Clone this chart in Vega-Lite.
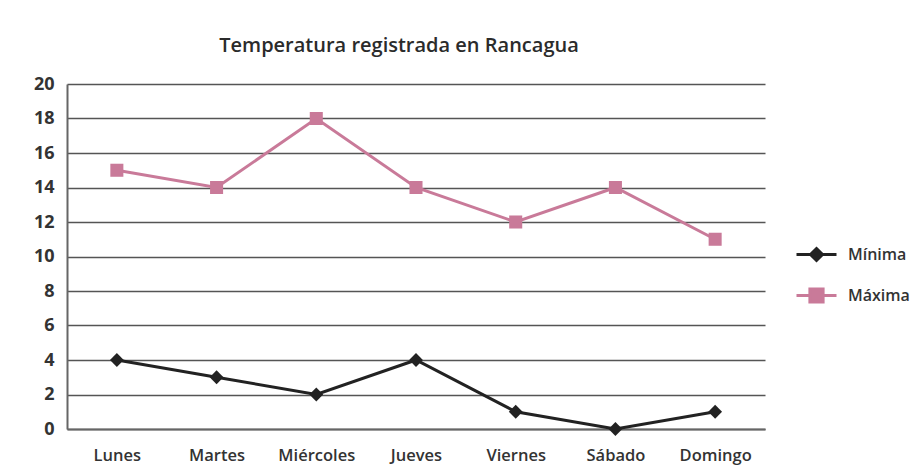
{
  "$schema": "https://vega.github.io/schema/vega-lite/v6.json",
  "width": 698,
  "height": 345,
  "autosize": {"type": "none"},
  "padding": {"left": 67, "top": 84, "right": 149, "bottom": 47},
  "background": "white",
  "title": {
    "text": "Temperatura registrada en Rancagua",
    "anchor": "middle",
    "frame": "group",
    "dx": -17,
    "offset": 19,
    "font": "Open Sans",
    "fontSize": 20,
    "fontWeight": 600,
    "color": "#2b2b2b"
  },
  "data": {
    "values": [
      {"dia": "Lunes", "serie": "Mínima", "temp": 4},
      {"dia": "Martes", "serie": "Mínima", "temp": 3},
      {"dia": "Miércoles", "serie": "Mínima", "temp": 2},
      {"dia": "Jueves", "serie": "Mínima", "temp": 4},
      {"dia": "Viernes", "serie": "Mínima", "temp": 1},
      {"dia": "Sábado", "serie": "Mínima", "temp": 0},
      {"dia": "Domingo", "serie": "Mínima", "temp": 1},
      {"dia": "Lunes", "serie": "Máxima", "temp": 15},
      {"dia": "Martes", "serie": "Máxima", "temp": 14},
      {"dia": "Miércoles", "serie": "Máxima", "temp": 18},
      {"dia": "Jueves", "serie": "Máxima", "temp": 14},
      {"dia": "Viernes", "serie": "Máxima", "temp": 12},
      {"dia": "Sábado", "serie": "Máxima", "temp": 14},
      {"dia": "Domingo", "serie": "Máxima", "temp": 11}
    ]
  },
  "encoding": {
    "x": {
      "field": "dia",
      "type": "nominal",
      "sort": ["Lunes", "Martes", "Miércoles", "Jueves", "Viernes", "Sábado", "Domingo"],
      "scale": {"type": "point", "padding": 0.5},
      "axis": {
        "title": null,
        "labelAngle": 0,
        "ticks": false,
        "grid": false,
        "domain": true,
        "domainColor": "#666",
        "domainWidth": 2,
        "labelPadding": 18,
        "labelFont": "Open Sans",
        "labelFontSize": 16.5,
        "labelFontWeight": 600,
        "labelColor": "#333"
      }
    },
    "y": {
      "field": "temp",
      "type": "quantitative",
      "scale": {"domain": [0, 20], "nice": false},
      "axis": {
        "title": null,
        "values": [0, 2, 4, 6, 8, 10, 12, 14, 16, 18, 20],
        "ticks": false,
        "grid": true,
        "gridColor": "#555",
        "gridWidth": 1.5,
        "gridOpacity": 1,
        "domain": true,
        "domainColor": "#666",
        "domainWidth": 2,
        "labelPadding": 13,
        "labelFont": "Open Sans",
        "labelFontSize": 18,
        "labelFontWeight": 700,
        "labelColor": "#333"
      }
    },
    "color": {
      "field": "serie",
      "type": "nominal",
      "scale": {"domain": ["Mínima", "Máxima"], "range": ["#222222", "#c97a99"]},
      "legend": {
        "title": null,
        "orient": "none",
        "legendX": 728,
        "legendY": 149,
        "symbolSize": 1600,
        "symbolStrokeWidth": 3,
        "rowPadding": 7,
        "labelOffset": 10,
        "labelFont": "Open Sans",
        "labelFontSize": 16,
        "labelFontWeight": 600,
        "labelColor": "#333",
        "encode": {
          "symbols": {
            "update": {
              "shape": {"signal": "datum.value === 'Mínima' ? 'M-1,0H1M0,-0.3L0.3,0L0,0.3L-0.3,0Z' : 'M-1,0H1M-0.33,-0.33H0.33V0.33H-0.33Z'"},
              "fill": {"signal": "datum.value === 'Mínima' ? '#222222' : '#c97a99'"},
              "fillOpacity": {"value": 1},
              "stroke": {"signal": "datum.value === 'Mínima' ? '#222222' : '#c97a99'"},
              "strokeWidth": {"value": 3}
            }
          }
        }
      }
    }
  },
  "layer": [
    {
      "mark": {"type": "line", "strokeWidth": 3}
    },
    {
      "transform": [{"filter": "datum.serie === 'Mínima'"}],
      "mark": {"type": "point", "shape": "diamond", "filled": true, "opacity": 1, "size": 190}
    },
    {
      "transform": [{"filter": "datum.serie === 'Máxima'"}],
      "mark": {"type": "point", "shape": "square", "filled": true, "opacity": 1, "size": 170}
    }
  ],
  "config": {"view": {"stroke": null}}
}
